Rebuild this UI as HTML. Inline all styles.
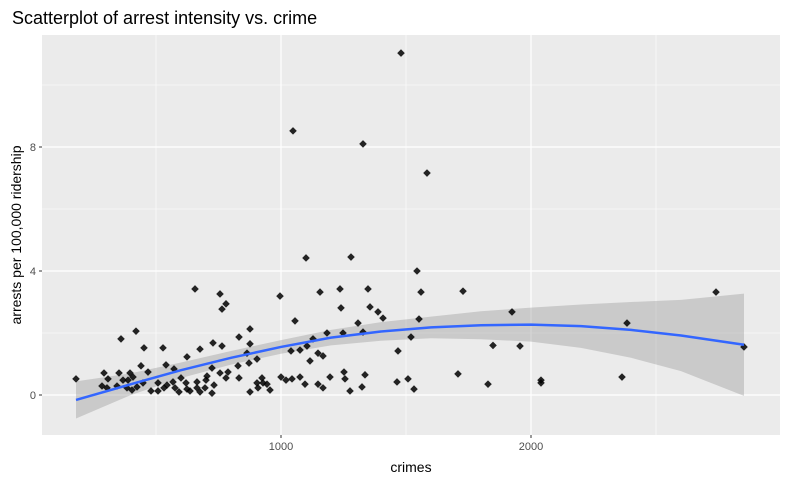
<!DOCTYPE html>
<html><head><meta charset="utf-8"><style>
body{margin:0;background:#fff;}
svg text{font-family:"Liberation Sans",sans-serif;}
</style></head><body>
<svg id="chart" width="787" height="486" xmlns="http://www.w3.org/2000/svg">
<text x="12" y="24" font-size="18" fill="#000">Scatterplot of arrest intensity vs. crime</text>
<rect x="42" y="35" width="738" height="400" fill="#ebebeb"/>
<g id="grid"></g>
<g id="band"></g>
<g id="pts"></g>
<g id="line"></g>
<g id="axes"></g>
<text x="411" y="472" font-size="14" text-anchor="middle" fill="#000">crimes</text>
<text transform="translate(21,235) rotate(-90)" font-size="14" text-anchor="middle" fill="#000">arrests per 100,000 ridership</text>
</svg>
<script>
const crimes=[180,292,360,420,352,452,440,396,284,308,304,344,368,384,404,424,388,408,448,468,480,508,508,528,540,544,532,568,572,576,592,600,624,620,624,636,656,664,664,676,676,696,700,704,724,724,728,732,756,756,764,780,764,780,788,832,828,832,864,876,876,872,876,904,904,908,924,928,944,956,996,1000,1020,1044,1040,1056,1076,1100,1280,1156,1236,1348,1240,1356,1388,1408,1308,1544,1560,1728,1552,1520,1184,1248,1328,1128,1104,1076,1148,1168,1116,1468,1096,1196,1148,1168,1252,1256,1276,1324,1336,1464,1508,1532,1708,1480,1048,1328,1584,1828,1848,1924,1956,2040,2040,2364,2384,2740,2852];
const arrests=[0.52,0.71,1.81,2.06,0.71,1.52,0.94,0.71,0.29,0.52,0.23,0.29,0.48,0.23,0.16,0.26,0.48,0.58,0.39,0.74,0.13,0.13,0.39,1.52,0.97,0.32,0.23,0.42,0.84,0.23,0.10,0.55,1.23,0.39,0.19,0.13,3.42,0.42,0.23,1.48,0.10,0.23,0.48,0.61,0.06,0.87,1.68,0.32,3.26,0.71,2.77,2.94,1.58,0.55,0.74,1.87,0.94,0.55,1.35,2.13,1.65,1.03,0.10,1.16,0.39,0.23,0.55,0.39,0.35,0.16,3.19,0.58,0.48,0.52,1.42,2.39,0.58,4.42,4.45,3.32,3.42,3.42,2.81,2.84,2.68,2.48,2.32,4.0,3.32,3.35,2.45,1.87,2.0,2.0,2.03,1.81,1.58,1.45,1.35,1.26,1.10,1.42,0.35,0.58,0.35,0.23,0.74,0.52,0.13,0.26,0.65,0.42,0.52,0.19,0.68,11.03,8.52,8.1,7.16,0.35,1.6,2.68,1.58,0.48,0.39,0.58,2.32,3.32,1.55];
const fitX=[180,400,600,800,1000,1200,1400,1600,1800,2000,2200,2400,2600,2852];
const fitY=[-0.16,0.35,0.8,1.2,1.55,1.85,2.05,2.18,2.25,2.27,2.22,2.1,1.92,1.62];
const fitLo=[-0.76,0.0,0.55,0.98,1.33,1.6,1.75,1.83,1.8,1.72,1.52,1.2,0.77,-0.03];
const fitHi=[0.44,0.7,1.05,1.42,1.77,2.1,2.35,2.53,2.7,2.82,2.92,3.0,3.07,3.27];
const xTicks=[1000,2000], xMinor=[500,1500,2500];
const yTicks=[0,4,8], yMinor=[2,6,10];
const X=v=>281+(v-1000)*0.25, Y=v=>395-31*v;
const NS="http://www.w3.org/2000/svg";
function mk(tag,attrs,parent){const e=document.createElementNS(NS,tag);for(const k in attrs)e.setAttribute(k,attrs[k]);document.getElementById(parent).appendChild(e);return e;}
xMinor.forEach(v=>{const e=mk('line',{x1:X(v),x2:X(v),y1:35,y2:435,stroke:'#fff','stroke-width':0.6},'grid');});
yMinor.forEach(v=>{const e=mk('line',{x1:42,x2:780,y1:Y(v),y2:Y(v),stroke:'#fff','stroke-width':0.6},'grid');});
xTicks.forEach(v=>{const e=mk('line',{x1:X(v),x2:X(v),y1:35,y2:435,stroke:'#fff','stroke-width':1.2},'grid');
 const t=mk('line',{x1:X(v),x2:X(v),y1:435,y2:438,stroke:'#333'},'axes');
 const l=mk('text',{x:X(v),y:450,'font-size':11,'text-anchor':'middle',fill:'#4d4d4d'},'axes');l.textContent=v;});
yTicks.forEach(v=>{const e=mk('line',{x1:42,x2:780,y1:Y(v),y2:Y(v),stroke:'#fff','stroke-width':1.2},'grid');
 const t=mk('line',{x1:39,x2:42,y1:Y(v),y2:Y(v),stroke:'#333'},'axes');
 const l=mk('text',{x:36,y:Y(v)+4,'font-size':11,'text-anchor':'end',fill:'#4d4d4d'},'axes');l.textContent=v;});
let d='';fitX.forEach((v,i)=>{d+=(i?'L':'M')+X(v)+','+Y(fitHi[i]);});
for(let i=fitX.length-1;i>=0;i--)d+='L'+X(fitX[i])+','+Y(fitLo[i]);
const b=mk('path',{d:d+'Z',fill:'#999',opacity:0.4},'band');
crimes.forEach((c,i)=>{const x=X(c),y=Y(arrests[i]);const p=mk('path',{d:`M${x},${y-3.8}L${x+3.8},${y}L${x},${y+3.8}L${x-3.8},${y}Z`,fill:'#000',opacity:0.85},'pts');});
let ld='';fitX.forEach((v,i)=>{ld+=(i?'L':'M')+X(v)+','+Y(fitY[i]);});
const ln=mk('path',{d:ld,fill:'none',stroke:'#3366ff','stroke-width':2.5},'line');
</script>
</body></html>
